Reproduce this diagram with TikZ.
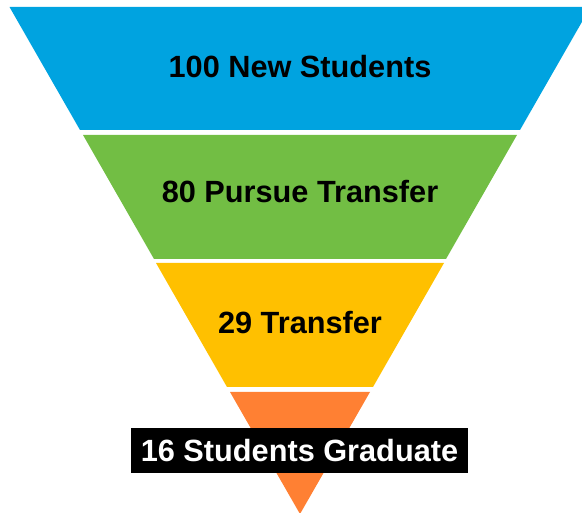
\documentclass[tikz,border=0pt]{standalone}
\usepackage{fontspec}
\setmainfont{Liberation Sans}
\definecolor{funnelblue}{RGB}{0,163,224}
\definecolor{funnelgreen}{RGB}{114,190,68}
\definecolor{funnelyellow}{RGB}{255,192,0}
\definecolor{funnelorange}{RGB}{255,128,51}
\begin{document}
\begin{tikzpicture}[x=1pt,y=-1pt,
    label/.style={font=\fontsize{30.7}{36}\selectfont\bfseries}]
        \useasboundingbox (0,0) rectangle (582,513);
        \clip (0,0) rectangle (582,513);
        % funnel bands
        \fill[funnelblue] (9.5,7) -- (590.5,7) -- (520,130) -- (80,130) -- cycle;
        \fill[funnelgreen] (83,135) -- (517,135) -- (446,259) -- (154,259) -- cycle;
        \fill[funnelyellow] (156,263) -- (444,263) -- (373,387) -- (227,387) -- cycle;
        \fill[funnelorange] (230,392) -- (370,392) -- (300,514) -- cycle;
        % labels
        \node[label] (new) at (300,67) {100 New Students};
        \node[label] (pursue) at (300,192) {80 Pursue Transfer};
        \node[label] (transfer) at (300,323) {29 Transfer};
        \node[label,fill=black,text=white,minimum width=337,minimum height=45,inner sep=0pt] (graduate) at (299.5,450.5) {16 Students Graduate};
    \end{tikzpicture}
\end{document}
